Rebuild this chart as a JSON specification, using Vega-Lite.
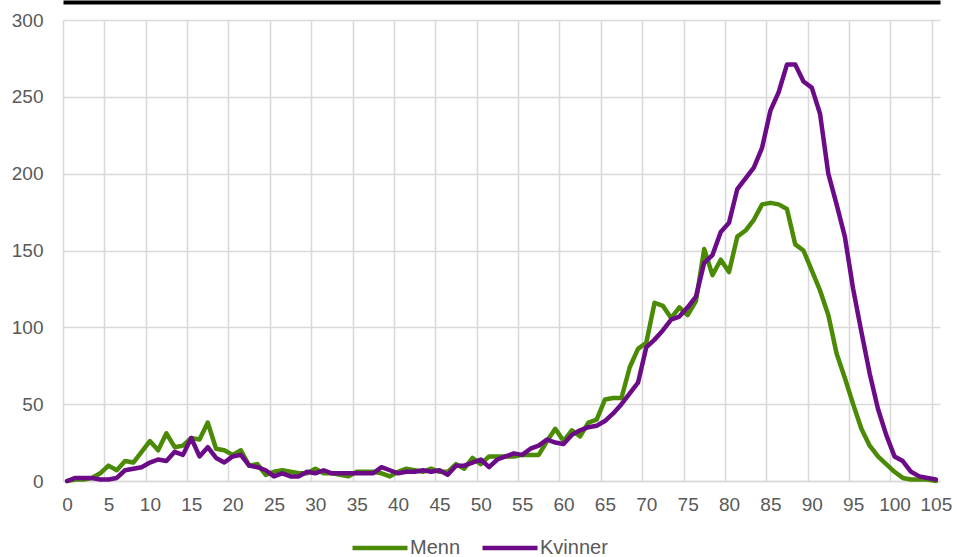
{
  "$schema": "https://vega.github.io/schema/vega-lite/v6.json",
  "width": 877,
  "height": 461,
  "autosize": "none",
  "padding": {"left": 63, "top": 20, "right": 17, "bottom": 76},
  "background": "white",
  "config": {
    "font": "Liberation Sans",
    "view": {"stroke": null},
    "axis": {"labelFont": "Liberation Sans", "labelColor": "#595959", "labelFontSize": 19, "gridColor": "#d9d9d9", "gridWidth": 1.6, "ticks": false},
    "legend": {"labelFont": "Liberation Sans", "labelColor": "#595959", "labelFontSize": 20}
  },
  "data": {
    "values": [
      {"alder": 0, "Menn": 0, "Kvinner": 0},
      {"alder": 1, "Menn": 1, "Kvinner": 2},
      {"alder": 2, "Menn": 1, "Kvinner": 2},
      {"alder": 3, "Menn": 2, "Kvinner": 2},
      {"alder": 4, "Menn": 5, "Kvinner": 1},
      {"alder": 5, "Menn": 10, "Kvinner": 1},
      {"alder": 6, "Menn": 7, "Kvinner": 2},
      {"alder": 7, "Menn": 13, "Kvinner": 7},
      {"alder": 8, "Menn": 12, "Kvinner": 8},
      {"alder": 9, "Menn": 19, "Kvinner": 9},
      {"alder": 10, "Menn": 26, "Kvinner": 12},
      {"alder": 11, "Menn": 20, "Kvinner": 14},
      {"alder": 12, "Menn": 31, "Kvinner": 13},
      {"alder": 13, "Menn": 22, "Kvinner": 19},
      {"alder": 14, "Menn": 23, "Kvinner": 17},
      {"alder": 15, "Menn": 28, "Kvinner": 28},
      {"alder": 16, "Menn": 27, "Kvinner": 16},
      {"alder": 17, "Menn": 38, "Kvinner": 22},
      {"alder": 18, "Menn": 21, "Kvinner": 15},
      {"alder": 19, "Menn": 20, "Kvinner": 12},
      {"alder": 20, "Menn": 17, "Kvinner": 16},
      {"alder": 21, "Menn": 20, "Kvinner": 17},
      {"alder": 22, "Menn": 10, "Kvinner": 10},
      {"alder": 23, "Menn": 11, "Kvinner": 9},
      {"alder": 24, "Menn": 4, "Kvinner": 7},
      {"alder": 25, "Menn": 6, "Kvinner": 3},
      {"alder": 26, "Menn": 7, "Kvinner": 5},
      {"alder": 27, "Menn": 6, "Kvinner": 3},
      {"alder": 28, "Menn": 5, "Kvinner": 3},
      {"alder": 29, "Menn": 5, "Kvinner": 6},
      {"alder": 30, "Menn": 8, "Kvinner": 5},
      {"alder": 31, "Menn": 5, "Kvinner": 7},
      {"alder": 32, "Menn": 5, "Kvinner": 5},
      {"alder": 33, "Menn": 4, "Kvinner": 5},
      {"alder": 34, "Menn": 3, "Kvinner": 5},
      {"alder": 35, "Menn": 6, "Kvinner": 5},
      {"alder": 36, "Menn": 6, "Kvinner": 5},
      {"alder": 37, "Menn": 6, "Kvinner": 5},
      {"alder": 38, "Menn": 5, "Kvinner": 9},
      {"alder": 39, "Menn": 3, "Kvinner": 7},
      {"alder": 40, "Menn": 6, "Kvinner": 5},
      {"alder": 41, "Menn": 8, "Kvinner": 6},
      {"alder": 42, "Menn": 7, "Kvinner": 6},
      {"alder": 43, "Menn": 6, "Kvinner": 7},
      {"alder": 44, "Menn": 8, "Kvinner": 6},
      {"alder": 45, "Menn": 6, "Kvinner": 7},
      {"alder": 46, "Menn": 6, "Kvinner": 4},
      {"alder": 47, "Menn": 11, "Kvinner": 10},
      {"alder": 48, "Menn": 8, "Kvinner": 10},
      {"alder": 49, "Menn": 15, "Kvinner": 12},
      {"alder": 50, "Menn": 11, "Kvinner": 14},
      {"alder": 51, "Menn": 16, "Kvinner": 9},
      {"alder": 52, "Menn": 16, "Kvinner": 14},
      {"alder": 53, "Menn": 16, "Kvinner": 16},
      {"alder": 54, "Menn": 16, "Kvinner": 18},
      {"alder": 55, "Menn": 17, "Kvinner": 17},
      {"alder": 56, "Menn": 17, "Kvinner": 21},
      {"alder": 57, "Menn": 17, "Kvinner": 23},
      {"alder": 58, "Menn": 26, "Kvinner": 27},
      {"alder": 59, "Menn": 34, "Kvinner": 25},
      {"alder": 60, "Menn": 26, "Kvinner": 24},
      {"alder": 61, "Menn": 33, "Kvinner": 30},
      {"alder": 62, "Menn": 29, "Kvinner": 33},
      {"alder": 63, "Menn": 38, "Kvinner": 35},
      {"alder": 64, "Menn": 40, "Kvinner": 36},
      {"alder": 65, "Menn": 53, "Kvinner": 39},
      {"alder": 66, "Menn": 54, "Kvinner": 44},
      {"alder": 67, "Menn": 54, "Kvinner": 50},
      {"alder": 68, "Menn": 74, "Kvinner": 57},
      {"alder": 69, "Menn": 86, "Kvinner": 64},
      {"alder": 70, "Menn": 90, "Kvinner": 87},
      {"alder": 71, "Menn": 116, "Kvinner": 92},
      {"alder": 72, "Menn": 114, "Kvinner": 98},
      {"alder": 73, "Menn": 106, "Kvinner": 105},
      {"alder": 74, "Menn": 113, "Kvinner": 107},
      {"alder": 75, "Menn": 108, "Kvinner": 113},
      {"alder": 76, "Menn": 117, "Kvinner": 120},
      {"alder": 77, "Menn": 151, "Kvinner": 142},
      {"alder": 78, "Menn": 134, "Kvinner": 147},
      {"alder": 79, "Menn": 144, "Kvinner": 162},
      {"alder": 80, "Menn": 136, "Kvinner": 168},
      {"alder": 81, "Menn": 159, "Kvinner": 190},
      {"alder": 82, "Menn": 163, "Kvinner": 197},
      {"alder": 83, "Menn": 170, "Kvinner": 204},
      {"alder": 84, "Menn": 180, "Kvinner": 217},
      {"alder": 85, "Menn": 181, "Kvinner": 241},
      {"alder": 86, "Menn": 180, "Kvinner": 253},
      {"alder": 87, "Menn": 177, "Kvinner": 271},
      {"alder": 88, "Menn": 154, "Kvinner": 271},
      {"alder": 89, "Menn": 150, "Kvinner": 260},
      {"alder": 90, "Menn": 137, "Kvinner": 256},
      {"alder": 91, "Menn": 124, "Kvinner": 239},
      {"alder": 92, "Menn": 108, "Kvinner": 200},
      {"alder": 93, "Menn": 83, "Kvinner": 180},
      {"alder": 94, "Menn": 67, "Kvinner": 159},
      {"alder": 95, "Menn": 50, "Kvinner": 125},
      {"alder": 96, "Menn": 34, "Kvinner": 97},
      {"alder": 97, "Menn": 23, "Kvinner": 70},
      {"alder": 98, "Menn": 16, "Kvinner": 47},
      {"alder": 99, "Menn": 11, "Kvinner": 30},
      {"alder": 100, "Menn": 6, "Kvinner": 16},
      {"alder": 101, "Menn": 2, "Kvinner": 13},
      {"alder": 102, "Menn": 1, "Kvinner": 6},
      {"alder": 103, "Menn": 1, "Kvinner": 3},
      {"alder": 104, "Menn": 1, "Kvinner": 2},
      {"alder": 105, "Menn": 0, "Kvinner": 1}
    ]
  },
  "transform": [
    {"fold": ["Menn", "Kvinner"], "as": ["kjonn", "antall"]}
  ],
  "resolve": {"axis": {"x": "independent"}},
  "layer": [
    {
      "mark": {"type": "rule", "opacity": 0},
      "encoding": {
        "x": {
          "field": "alder",
          "type": "quantitative",
          "scale": {"domain": [-0.5, 105.5], "nice": false, "zero": false},
          "axis": {
            "orient": "top",
            "title": null,
            "labels": false,
            "grid": false,
            "domainColor": "#000000",
            "domainWidth": 4,
            "offset": 18
          }
        }
      }
    },
    {
      "mark": {"type": "line", "strokeWidth": 4.5, "strokeJoin": "round", "strokeCap": "round"},
      "encoding": {
        "x": {
          "field": "alder",
          "type": "quantitative",
          "scale": {"domain": [-0.5, 105.5], "nice": false, "zero": false},
          "axis": {
            "orient": "bottom",
            "title": null,
            "grid": true,
            "values": [-0.5, 4.5, 9.5, 14.5, 19.5, 24.5, 29.5, 34.5, 39.5, 44.5, 49.5, 54.5, 59.5, 64.5, 69.5, 74.5, 79.5, 84.5, 89.5, 94.5, 99.5, 104.5],
            "labelExpr": "format(datum.value + 0.5, 'd')",
            "labelOffset": 4.14,
            "labelFlush": false,
            "labelOverlap": false,
            "labelBound": false,
            "labelPadding": 14,
            "domainColor": "#d9d9d9",
            "domainWidth": 1.6
          }
        },
        "y": {
          "field": "antall",
          "type": "quantitative",
          "scale": {"domain": [0, 300], "nice": false},
          "axis": {
            "title": null,
            "grid": true,
            "values": [0, 50, 100, 150, 200, 250, 300],
            "domain": false,
            "labelPadding": 20
          }
        },
        "color": {
          "field": "kjonn",
          "type": "nominal",
          "sort": ["Menn", "Kvinner"],
          "scale": {"domain": ["Menn", "Kvinner"], "range": ["#4a8a05", "#6c0b88"]},
          "legend": {
            "title": null,
            "orient": "none",
            "direction": "horizontal",
            "legendX": 287,
            "legendY": 498,
            "symbolType": "stroke",
            "symbolSize": 3025,
            "symbolStrokeWidth": 4.5,
            "labelOffset": 0,
            "columnPadding": 12
          }
        },
        "order": {"field": "alder", "type": "quantitative"}
      }
    }
  ]
}
